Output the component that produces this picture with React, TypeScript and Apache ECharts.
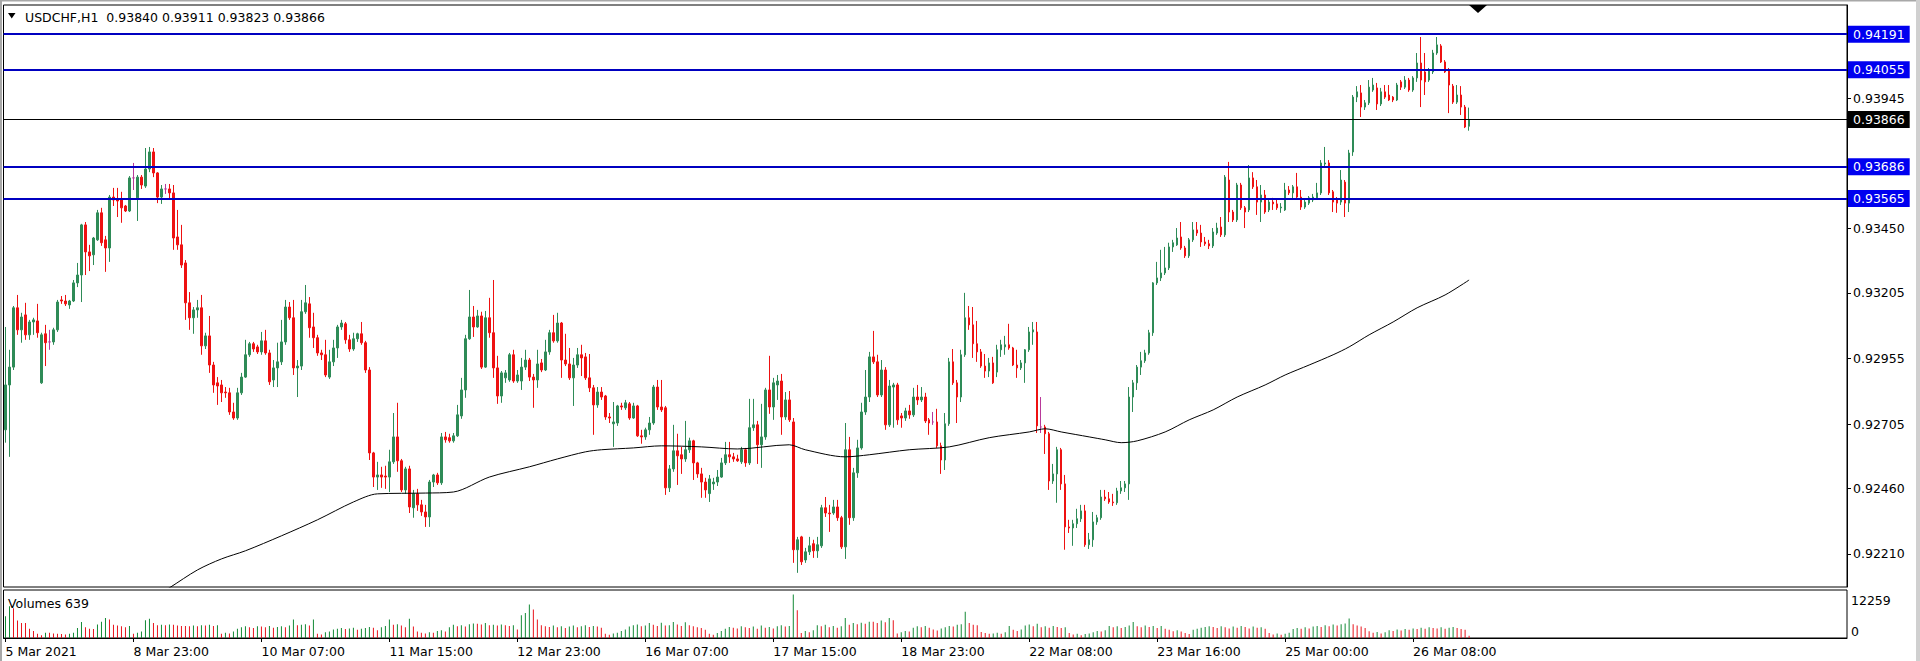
import React, { useEffect, useRef } from 'react';
import * as echarts from 'echarts';

const FONT = 'DejaVu Sans';
const symbolTitle = 'USDCHF,H1  0.93840 0.93911 0.93823 0.93866';
const volumeTitle = 'Volumes 639';
const timeTickLabels = ['5 Mar 2021', '8 Mar 23:00', '10 Mar 07:00', '11 Mar 15:00', '12 Mar 23:00', '16 Mar 07:00', '17 Mar 15:00', '18 Mar 23:00', '22 Mar 08:00', '23 Mar 16:00', '25 Mar 00:00', '26 Mar 08:00'];
const barsPerTimeLabel = 32;
const totalSlots = 461;
const priceTicks = [0.9221, 0.9246, 0.92705, 0.92955, 0.93205, 0.9345, 0.93945];
const levelLines = [0.94191, 0.94055, 0.93686, 0.93565];
const bidPrice = 0.93866;
const volumeMaxLabel = 12259;

// [open, close, low, high]
const ohlc: number[][] = [
[0.92683,0.92854,0.92634,0.93075],[0.92854,0.92922,0.92580,0.92988],[0.92922,0.93148,0.92911,0.93155],[0.93148,0.93064,0.93045,0.93197],[0.93064,0.93113,0.93015,0.93129],[0.93121,0.93045,0.93026,0.93167],
[0.93045,0.93094,0.93026,0.93102],[0.93094,0.93102,0.93045,0.93110],[0.93098,0.93053,0.93034,0.93163],[0.92862,0.93045,0.92858,0.93053],[0.93049,0.93015,0.92926,0.93083],[0.93018,0.93018,0.92988,0.93064],
[0.93018,0.93064,0.93007,0.93072],[0.93064,0.93170,0.93056,0.93178],[0.93178,0.93174,0.93163,0.93193],[0.93174,0.93163,0.93155,0.93197],[0.93159,0.93174,0.93144,0.93178],[0.93174,0.93243,0.93170,0.93254],
[0.93243,0.93273,0.93227,0.93319],[0.93273,0.93464,0.93170,0.93468],[0.93464,0.93361,0.93273,0.93475],[0.93361,0.93346,0.93288,0.93388],[0.93350,0.93414,0.93311,0.93418],[0.93407,0.93510,0.93403,0.93521],
[0.93510,0.93396,0.93384,0.93529],[0.93407,0.93376,0.93285,0.93422],[0.93376,0.93570,0.93323,0.93578],[0.93570,0.93559,0.93536,0.93605],[0.93559,0.93555,0.93494,0.93605],[0.93559,0.93529,0.93472,0.93590],
[0.93536,0.93517,0.93513,0.93540],[0.93517,0.93643,0.93513,0.93650],[0.93643,0.93643,0.93597,0.93700],[0.93567,0.93646,0.93479,0.93654],[0.93646,0.93616,0.93601,0.93654],[0.93612,0.93677,0.93605,0.93757],
[0.93677,0.93742,0.93665,0.93761],[0.93742,0.93662,0.93646,0.93757],[0.93662,0.93570,0.93547,0.93665],[0.93570,0.93601,0.93544,0.93616],[0.93601,0.93601,0.93582,0.93620],[0.93601,0.93586,0.93559,0.93620],
[0.93586,0.93414,0.93369,0.93616],[0.93418,0.93388,0.93369,0.93521],[0.93388,0.93311,0.93300,0.93464],[0.93319,0.93167,0.93102,0.93330],[0.93167,0.93110,0.93064,0.93208],[0.93110,0.93140,0.93049,0.93151],
[0.93140,0.93148,0.93110,0.93178],[0.93148,0.93003,0.92969,0.93197],[0.93003,0.93041,0.92991,0.93053],[0.93041,0.92930,0.92900,0.93117],[0.92930,0.92854,0.92824,0.92942],[0.92862,0.92850,0.92778,0.92884],
[0.92854,0.92824,0.92789,0.92873],[0.92827,0.92824,0.92805,0.92846],[0.92824,0.92751,0.92740,0.92843],[0.92751,0.92728,0.92721,0.92786],[0.92728,0.92824,0.92721,0.92843],[0.92824,0.92884,0.92816,0.92900],
[0.92884,0.92969,0.92881,0.93026],[0.92969,0.93011,0.92961,0.93018],[0.93011,0.92991,0.92980,0.93018],[0.92999,0.92980,0.92972,0.93007],[0.92980,0.93022,0.92969,0.93056],[0.93022,0.92976,0.92969,0.93064],
[0.92976,0.92866,0.92854,0.92988],[0.92873,0.92919,0.92846,0.92949],[0.92919,0.92942,0.92846,0.93015],[0.92942,0.93018,0.92930,0.93102],[0.93018,0.93151,0.93007,0.93178],[0.93151,0.93110,0.93102,0.93170],
[0.93110,0.92919,0.92892,0.93178],[0.92919,0.92926,0.92808,0.92949],[0.92926,0.93133,0.92911,0.93178],[0.93133,0.93167,0.93125,0.93235],[0.93163,0.93072,0.93034,0.93189],[0.93075,0.93034,0.92995,0.93129],
[0.93034,0.92976,0.92965,0.93045],[0.92976,0.92969,0.92949,0.92988],[0.92969,0.92892,0.92884,0.93026],[0.92884,0.92942,0.92877,0.92988],[0.92942,0.92995,0.92926,0.93026],[0.92995,0.93075,0.92957,0.93083],
[0.93075,0.93090,0.93064,0.93102],[0.93087,0.93026,0.93011,0.93094],[0.93026,0.92991,0.92980,0.93045],[0.92991,0.93030,0.92984,0.93053],[0.93030,0.93049,0.93018,0.93053],[0.93049,0.93015,0.93007,0.93094],
[0.93015,0.92911,0.92900,0.93022],[0.92911,0.92595,0.92568,0.92922],[0.92595,0.92503,0.92465,0.92599],[0.92503,0.92511,0.92454,0.92561],[0.92511,0.92503,0.92462,0.92542],[0.92507,0.92503,0.92458,0.92546],
[0.92503,0.92561,0.92446,0.92607],[0.92561,0.92656,0.92553,0.92747],[0.92656,0.92565,0.92523,0.92786],[0.92565,0.92454,0.92446,0.92572],[0.92454,0.92534,0.92439,0.92542],[0.92534,0.92389,0.92366,0.92546],
[0.92386,0.92439,0.92348,0.92454],[0.92439,0.92397,0.92374,0.92458],[0.92397,0.92370,0.92355,0.92416],[0.92370,0.92351,0.92313,0.92397],[0.92351,0.92484,0.92313,0.92492],[0.92484,0.92511,0.92465,0.92515],
[0.92511,0.92481,0.92473,0.92519],[0.92481,0.92656,0.92473,0.92671],[0.92656,0.92645,0.92634,0.92675],[0.92653,0.92641,0.92634,0.92668],[0.92641,0.92660,0.92634,0.92671],[0.92660,0.92740,0.92656,0.92778],
[0.92736,0.92835,0.92725,0.92881],[0.92835,0.93030,0.92805,0.93045],[0.93030,0.93113,0.93026,0.93216],[0.93113,0.93075,0.93037,0.93155],[0.93075,0.93117,0.93072,0.93140],[0.93117,0.92922,0.92915,0.93133],
[0.92922,0.93110,0.92919,0.93136],[0.93110,0.93053,0.93034,0.93186],[0.93053,0.92919,0.92881,0.93254],[0.92919,0.92812,0.92782,0.92965],[0.92812,0.92900,0.92786,0.92907],[0.92881,0.92900,0.92862,0.92911],
[0.92873,0.92969,0.92866,0.92976],[0.92969,0.92869,0.92862,0.92988],[0.92869,0.92892,0.92862,0.92911],[0.92869,0.92922,0.92835,0.92957],[0.92922,0.92949,0.92911,0.92988],[0.92949,0.92884,0.92869,0.92957],
[0.92884,0.92873,0.92767,0.92896],[0.92873,0.92934,0.92843,0.92988],[0.92938,0.92911,0.92903,0.92953],[0.92911,0.92980,0.92907,0.93026],[0.92980,0.93053,0.92969,0.93064],[0.93053,0.93022,0.93015,0.93121],
[0.93022,0.93090,0.93015,0.93129],[0.93090,0.92949,0.92881,0.93094],[0.92949,0.92934,0.92926,0.93049],[0.92934,0.92881,0.92873,0.92995],[0.92881,0.92930,0.92774,0.92957],[0.92930,0.92969,0.92919,0.92995],
[0.92969,0.92957,0.92888,0.93007],[0.92961,0.92881,0.92873,0.92976],[0.92881,0.92843,0.92827,0.92972],[0.92843,0.92778,0.92664,0.92854],[0.92778,0.92827,0.92767,0.92846],[0.92827,0.92808,0.92797,0.92846],
[0.92812,0.92732,0.92721,0.92816],[0.92732,0.92728,0.92709,0.92747],[0.92706,0.92713,0.92618,0.92789],[0.92709,0.92774,0.92698,0.92778],[0.92774,0.92770,0.92759,0.92786],[0.92767,0.92786,0.92759,0.92797],
[0.92782,0.92728,0.92721,0.92789],[0.92728,0.92774,0.92725,0.92786],[0.92774,0.92660,0.92656,0.92778],[0.92660,0.92656,0.92630,0.92683],[0.92656,0.92683,0.92645,0.92691],[0.92683,0.92709,0.92664,0.92732],
[0.92709,0.92846,0.92702,0.92854],[0.92846,0.92770,0.92759,0.92873],[0.92770,0.92759,0.92751,0.92873],[0.92767,0.92462,0.92435,0.92774],[0.92462,0.92534,0.92446,0.92549],[0.92534,0.92603,0.92523,0.92702],
[0.92603,0.92584,0.92473,0.92668],[0.92588,0.92572,0.92515,0.92618],[0.92572,0.92607,0.92561,0.92717],[0.92607,0.92641,0.92595,0.92653],[0.92641,0.92557,0.92492,0.92645],[0.92557,0.92515,0.92500,0.92561],
[0.92515,0.92484,0.92424,0.92538],[0.92484,0.92454,0.92424,0.92500],[0.92440,0.92496,0.92408,0.92511],[0.92477,0.92484,0.92454,0.92500],[0.92484,0.92503,0.92469,0.92530],[0.92503,0.92557,0.92500,0.92576],
[0.92557,0.92588,0.92549,0.92637],[0.92588,0.92580,0.92557,0.92637],[0.92580,0.92572,0.92561,0.92595],[0.92572,0.92565,0.92561,0.92588],[0.92561,0.92607,0.92553,0.92618],[0.92607,0.92557,0.92542,0.92614],
[0.92557,0.92691,0.92549,0.92801],[0.92691,0.92702,0.92679,0.92801],[0.92702,0.92626,0.92553,0.92717],[0.92626,0.92656,0.92538,0.92782],[0.92656,0.92835,0.92645,0.92843],[0.92835,0.92770,0.92744,0.92965],
[0.92770,0.92862,0.92721,0.92881],[0.92854,0.92869,0.92797,0.92892],[0.92869,0.92732,0.92664,0.92896],[0.92732,0.92797,0.92721,0.92827],[0.92797,0.92721,0.92713,0.92831],[0.92713,0.92226,0.92176,0.92728],
[0.92226,0.92264,0.92138,0.92275],[0.92275,0.92180,0.92168,0.92279],[0.92187,0.92218,0.92176,0.92233],[0.92218,0.92241,0.92206,0.92275],[0.92249,0.92222,0.92195,0.92264],[0.92222,0.92245,0.92195,0.92275],
[0.92241,0.92386,0.92233,0.92397],[0.92386,0.92366,0.92351,0.92427],[0.92366,0.92363,0.92294,0.92397],[0.92366,0.92389,0.92359,0.92416],[0.92389,0.92348,0.92336,0.92416],[0.92348,0.92237,0.92229,0.92355],
[0.92237,0.92607,0.92191,0.92709],[0.92607,0.92348,0.92321,0.92656],[0.92348,0.92519,0.92336,0.92538],[0.92519,0.92614,0.92500,0.92645],[0.92614,0.92751,0.92607,0.92786],[0.92751,0.92808,0.92740,0.92911],
[0.92808,0.92961,0.92789,0.92980],[0.92961,0.92942,0.92934,0.93060],[0.92942,0.92816,0.92808,0.92969],[0.92816,0.92911,0.92808,0.92949],[0.92911,0.92702,0.92683,0.92922],[0.92702,0.92850,0.92694,0.92873],
[0.92846,0.92854,0.92691,0.92862],[0.92854,0.92721,0.92702,0.92862],[0.92736,0.92728,0.92691,0.92747],[0.92728,0.92755,0.92717,0.92767],[0.92755,0.92740,0.92725,0.92778],[0.92740,0.92808,0.92732,0.92843],
[0.92808,0.92797,0.92778,0.92854],[0.92797,0.92808,0.92789,0.92846],[0.92808,0.92717,0.92709,0.92824],[0.92721,0.92709,0.92664,0.92728],[0.92713,0.92713,0.92702,0.92751],[0.92713,0.92622,0.92614,0.92763],
[0.92622,0.92568,0.92515,0.92634],[0.92568,0.92706,0.92530,0.92747],[0.92706,0.92942,0.92698,0.92957],[0.92942,0.92862,0.92854,0.92991],[0.92862,0.92808,0.92709,0.92873],[0.92808,0.92969,0.92789,0.92988],
[0.92969,0.93110,0.92961,0.93205],[0.93110,0.93083,0.93064,0.93155],[0.93083,0.93011,0.92957,0.93151],[0.93011,0.92980,0.92942,0.93098],[0.92980,0.92926,0.92919,0.92991],[0.92926,0.92907,0.92881,0.92972],
[0.92907,0.92938,0.92884,0.92957],[0.92938,0.92862,0.92858,0.92961],[0.92903,0.92988,0.92884,0.93007],[0.92988,0.93007,0.92961,0.93026],[0.92999,0.93007,0.92969,0.93041],[0.93007,0.92995,0.92988,0.93087],
[0.92995,0.92930,0.92926,0.92999],[0.92930,0.92919,0.92881,0.92988],[0.92919,0.92938,0.92911,0.92949],[0.92938,0.92988,0.92862,0.92991],[0.92988,0.93056,0.92980,0.93075],[0.93056,0.93064,0.93007,0.93094],
[0.93056,0.92698,0.92671,0.93094],[0.92694,0.92694,0.92671,0.92808],[0.92694,0.92668,0.92591,0.92702],[0.92668,0.92488,0.92454,0.92675],[0.92488,0.92515,0.92477,0.92553],[0.92515,0.92607,0.92405,0.92618],
[0.92607,0.92477,0.92454,0.92614],[0.92477,0.92313,0.92226,0.92511],[0.92313,0.92309,0.92290,0.92340],[0.92309,0.92325,0.92241,0.92340],[0.92325,0.92344,0.92309,0.92382],[0.92344,0.92374,0.92332,0.92397],
[0.92374,0.92245,0.92237,0.92397],[0.92245,0.92264,0.92229,0.92290],[0.92264,0.92332,0.92237,0.92370],[0.92332,0.92348,0.92321,0.92359],[0.92348,0.92427,0.92340,0.92454],[0.92427,0.92420,0.92412,0.92454],
[0.92420,0.92408,0.92401,0.92446],[0.92408,0.92405,0.92393,0.92439],[0.92405,0.92450,0.92397,0.92462],[0.92450,0.92462,0.92439,0.92488],[0.92462,0.92477,0.92446,0.92488],[0.92477,0.92808,0.92416,0.92846],
[0.92808,0.92862,0.92751,0.92873],[0.92862,0.92922,0.92835,0.92930],[0.92922,0.92946,0.92892,0.92980],[0.92946,0.92976,0.92938,0.92988],[0.92976,0.93053,0.92969,0.93064],[0.93053,0.93243,0.93041,0.93246],
[0.93243,0.93262,0.93235,0.93323],[0.93262,0.93281,0.93250,0.93369],[0.93281,0.93300,0.93273,0.93380],[0.93300,0.93380,0.93292,0.93396],[0.93380,0.93396,0.93361,0.93407],[0.93388,0.93414,0.93384,0.93452],
[0.93418,0.93376,0.93369,0.93475],[0.93376,0.93346,0.93338,0.93384],[0.93346,0.93407,0.93338,0.93414],[0.93407,0.93445,0.93399,0.93475],[0.93445,0.93433,0.93422,0.93475],[0.93433,0.93399,0.93380,0.93464],
[0.93399,0.93392,0.93384,0.93418],[0.93392,0.93384,0.93372,0.93407],[0.93384,0.93437,0.93376,0.93452],[0.93433,0.93452,0.93426,0.93472],[0.93456,0.93426,0.93418,0.93494],[0.93426,0.93646,0.93418,0.93654],
[0.93635,0.93513,0.93475,0.93704],[0.93513,0.93483,0.93475,0.93521],[0.93483,0.93616,0.93475,0.93624],[0.93616,0.93529,0.93521,0.93624],[0.93529,0.93513,0.93452,0.93536],[0.93521,0.93643,0.93513,0.93692],
[0.93643,0.93609,0.93601,0.93665],[0.93609,0.93551,0.93502,0.93635],[0.93551,0.93578,0.93475,0.93616],[0.93578,0.93513,0.93506,0.93597],[0.93521,0.93551,0.93513,0.93559],[0.93551,0.93544,0.93521,0.93567],
[0.93544,0.93529,0.93521,0.93559],[0.93529,0.93532,0.93510,0.93547],[0.93521,0.93597,0.93517,0.93624],[0.93597,0.93586,0.93578,0.93612],[0.93586,0.93609,0.93559,0.93616],[0.93609,0.93570,0.93563,0.93662],
[0.93570,0.93532,0.93521,0.93597],[0.93532,0.93551,0.93525,0.93559],[0.93547,0.93567,0.93540,0.93574],[0.93559,0.93570,0.93551,0.93582],[0.93567,0.93586,0.93559,0.93624],[0.93586,0.93700,0.93578,0.93711],
[0.93696,0.93700,0.93685,0.93761],[0.93700,0.93586,0.93578,0.93711],[0.93590,0.93551,0.93513,0.93597],[0.93559,0.93547,0.93510,0.93570],[0.93551,0.93635,0.93540,0.93673],[0.93627,0.93547,0.93494,0.93635],
[0.93547,0.93738,0.93513,0.93750],[0.93742,0.93951,0.93727,0.93959],[0.93951,0.93971,0.93932,0.93993],[0.93967,0.93913,0.93875,0.93997],[0.93913,0.93929,0.93902,0.93940],[0.93929,0.93989,0.93921,0.94016],
[0.93978,0.93997,0.93971,0.94024],[0.93986,0.93925,0.93902,0.94005],[0.93925,0.93971,0.93917,0.93986],[0.93971,0.93951,0.93944,0.93997],[0.93959,0.93940,0.93936,0.93997],[0.93951,0.93940,0.93932,0.93955],
[0.93940,0.93997,0.93936,0.94005],[0.94009,0.93989,0.93978,0.94016],[0.93989,0.94016,0.93982,0.94031],[0.94016,0.93978,0.93971,0.94024],[0.93978,0.94024,0.93971,0.94031],[0.94024,0.94081,0.94009,0.94119],
[0.94081,0.94016,0.93913,0.94180],[0.94047,0.94009,0.93959,0.94119],[0.94016,0.94054,0.94009,0.94062],[0.94047,0.94119,0.94039,0.94131],[0.94119,0.94150,0.94112,0.94180],[0.94146,0.94085,0.94081,0.94153],
[0.94085,0.94047,0.94043,0.94092],[0.94054,0.93997,0.93890,0.94062],[0.93993,0.93932,0.93925,0.94001],[0.93932,0.93959,0.93925,0.93997],[0.93959,0.93913,0.93883,0.93993],[0.93913,0.93837,0.93833,0.93921],
[0.93840,0.93866,0.93823,0.93911]
];

// tick volume per bar (same order as ohlc)
const volumes: number[] = [
/* 0-8 */ 6100, 8900, 8400, 4900, 4200, 4200, 2600, 2000, 1200,
/* 9-17 */ 800, 1500, 1500, 1300, 1200, 1100, 1000, 1200, 1500,
/* 18-26 */ 2800, 4500, 3000, 2600, 2500, 3800, 4600, 5600, 5200,
/* 27-31 */ 3700, 3500, 3300, 3000, 3400,
/* 32-34 */ 1200, 1500, 1800,
/* 35-38 */ 5000, 5400, 4200, 3600,
/* 39-43 */ 3700, 3600, 3800, 3700, 3500,
/* 44-50 */ 3400, 3400, 3300, 3500, 3300, 3600, 3500,
/* 51-53 */ 3700, 3400, 3600,
/* 54-58 */ 1200, 1500, 1300, 1800, 2600,
/* 59-71 */ 3000, 3300, 3000, 2800, 3300, 3200, 3000, 3400, 2900, 3100, 3300, 3000, 3500,
/* 72 */ 5200,
/* 73-77 */ 3600, 3700, 3900, 3500, 5200,
/* 78-81 */ 1200, 1000, 1600, 1800,
/* 82-94 */ 2400, 2600, 2800, 2500, 2700, 2900, 2300, 2600, 2800, 3100, 2900, 2200, 3000,
/* 95-96 */ 3400, 5200,
/* 97-100 */ 3700, 3900, 3500, 3000,
/* 101 */ 5400,
/* 102-110 */ 3200, 1800, 1500, 1300, 1600, 1500, 2000, 2200, 1800,
/* 111-121 */ 3000, 3700, 3300, 3600, 3200, 3900, 4100, 4000, 3800, 4200, 3600,
/* 122-127 */ 3700, 3500, 3800, 3600, 3400, 3600,
/* 128-134 */ 2400, 6400, 7000, 9400, 8000, 5200, 3600,
/* 135-149 */ 3300, 3100, 3500, 3000, 3300, 2800, 3200, 3500, 3000, 3300, 3600, 3100, 3400, 3200, 2900,
/* 150-155 */ 1200, 900, 1300, 1500, 2000, 2400,
/* 156-172 */ 3200, 3600, 3800, 3300, 3500, 4200, 3700, 3400, 4300, 3500, 3600, 4500, 3800, 3400, 4400, 3600, 3300,
/* 173-175 */ 3000, 2800, 2300,
/* 176-179 */ 1200, 900, 1400, 2000,
/* 180-192 */ 2600, 3100, 2900, 2700, 3300, 3000, 2800, 3200, 2600, 3500, 2900, 3100, 2700,
/* 193-196 */ 3300, 3600, 3200, 3400,
/* 197-199 */ 12259, 7800, 1400,
/* 200-202 */ 2000, 1600, 2200,
/* 203-205 */ 3600, 3300, 3700,
/* 206-209 */ 3000, 3400, 2900, 3300,
/* 210 */ 5600,
/* 211-213 */ 3700, 4200, 3900,
/* 214-216 */ 4300, 4000, 4600,
/* 217-222 */ 4600, 4200, 4900, 4400, 5600, 5000,
/* 223 */ 1300,
/* 224-226 */ 1600, 2000, 1800,
/* 227-230 */ 2900, 3300, 3000, 3400,
/* 231-234 */ 2900, 2400, 2100, 2700,
/* 235-239 */ 3000, 3400, 3200, 3700, 3900,
/* 240 */ 7400,
/* 241-243 */ 4200, 3700, 3600,
/* 244-250 */ 1700, 1400, 1200, 1300, 1500, 1200, 1600,
/* 251 */ 3400,
/* 252-254 */ 2300, 2000, 2400,
/* 255-257 */ 3500, 3800, 3300,
/* 258 */ 4000,
/* 259-265 */ 3000, 3300, 2900, 3400, 3100, 2800, 3000,
/* 266-271 */ 1400, 1000, 1200, 800, 1100, 1300,
/* 272-275 */ 1600, 2000, 1800, 2200,
/* 276 */ 3400,
/* 277-281 */ 3000, 3300, 2800, 3100, 3500,
/* 282 */ 4500,
/* 283-288 */ 3300, 3000, 3500, 3100, 3400, 2800,
/* 289 */ 3400,
/* 290-294 */ 2600, 2300, 1900, 2200, 1800,
/* 295-296 */ 1400, 1100,
/* 297-301 */ 2300, 2600, 2900, 3100, 3300,
/* 302-309 */ 3100, 2800, 3300, 3000, 2700, 3200, 2900, 3400,
/* 310-315 */ 3100, 2700, 3200, 2900, 3000, 2600,
/* 316-321 */ 1400, 1000, 1300, 900, 1200, 1500,
/* 322-326 */ 2500, 2800, 2600, 3000, 2700,
/* 327-335 */ 3200, 3400, 3100, 3600, 3300, 3800, 3500, 3900, 4100,
/* 336 */ 5500,
/* 337-340 */ 3900, 3500, 3200, 2800,
/* 341-345 */ 1900, 1500, 1700, 1300, 1600,
/* 346-351 */ 2200, 2000, 2400, 2100, 2500, 2300,
/* 352-357 */ 2700, 2500, 2900, 2600, 3000, 2800,
/* 358-363 */ 2700, 3000, 2600, 2900, 3100, 2800,
/* 364-366 */ 2500, 2300, 639
];

// moving average, [bar index, value]
const maPoints: number[][] = [
[36,0.92035],[41,0.92081],[48,0.92149],[54,0.92191],[60,0.92222],[69,0.92279],[78,0.92340],[87,0.92408],[93,0.92439],
[105,0.92442],[112,0.92446],[121,0.92503],[131,0.92542],[138,0.92572],[145,0.92599],[149,0.92607],[157,0.92614],[164,0.92622],
[174,0.92618],[183,0.92610],[196,0.92626],[200,0.92607],[210,0.92580],[216,0.92588],[226,0.92607],[236,0.92618],[246,0.92653],
[256,0.92675],[260,0.92687],[264,0.92675],[271,0.92656],[275,0.92645],[279,0.92634],[283,0.92641],[290,0.92675],[296,0.92721],
[302,0.92759],[308,0.92808],[315,0.92854],[320,0.92892],[326,0.92930],[332,0.92969],[336,0.92999],[341,0.93045],[347,0.93094],
[353,0.93148],[360,0.93197],[366,0.93254]
];

const slots = Array.from({ length: totalSlots }, (_, i) => String(i));
const showTime = (index: number) => index % barsPerTimeLabel === 0 && index / barsPerTimeLabel < timeTickLabels.length;

export default function App() {
  const ref = useRef<HTMLDivElement>(null);
  useEffect(() => {
    if (!ref.current) return;
    const chart = echarts.init(ref.current, null, { renderer: 'svg' });
    const txt = { fontFamily: FONT, fontSize: 12.5, color: '#000' };
    const volUp = '#138a36';
    const volDown = '#e8141c';
    const levelLabel = (bg: string) => ({
      show: true, position: 'end', distance: 1,
      formatter: (p: any) => Number(p.value).toFixed(5),
      ...txt, color: '#ffffff', backgroundColor: bg, padding: [2, 5, 2, 5], lineHeight: 13,
    });
    const option: any = {
      animation: false,
      backgroundColor: '#ffffff',
      textStyle: { fontFamily: FONT },
      title: [
        { text: symbolTitle, left: 25, top: 10, padding: 0, textStyle: { ...txt, fontWeight: 'normal', lineHeight: 14 } },
        { text: volumeTitle, left: 8, top: 596, padding: 0, textStyle: { ...txt, fontWeight: 'normal', lineHeight: 14 } },
      ],
      grid: [
        { left: 3.5, top: 5, width: 1843.5, height: 582, show: true, borderColor: '#000', borderWidth: 1, containLabel: false },
        { left: 3.5, top: 590, width: 1843.5, height: 48, show: true, borderColor: '#000', borderWidth: 1, containLabel: false },
      ],
      xAxis: [
        { type: 'category', gridIndex: 0, data: slots, boundaryGap: true, axisLine: { show: false }, axisTick: { show: false }, axisLabel: { show: false }, splitLine: { show: false } },
        {
          type: 'category', gridIndex: 1, data: slots, boundaryGap: true,
          axisLine: { show: true, lineStyle: { color: '#000', width: 1 } },
          axisTick: { show: true, alignWithLabel: true, interval: showTime, length: 4, lineStyle: { color: '#000' } },
          axisLabel: { show: true, interval: showTime, formatter: (_v: string, i: number) => timeTickLabels[i / barsPerTimeLabel] ?? '', align: 'left', margin: 7, ...txt },
          splitLine: { show: false },
        },
      ],
      yAxis: [
        {
          type: 'value', gridIndex: 0, position: 'right', min: 0.92084, max: 0.94302,
          splitLine: { show: false },
          axisLine: { show: true, lineStyle: { color: '#000' } },
          axisTick: { show: true, length: 4, customValues: priceTicks, lineStyle: { color: '#000' } },
          axisLabel: { show: true, customValues: priceTicks, formatter: (v: number) => v.toFixed(5), margin: 6, ...txt },
        },
        {
          type: 'value', gridIndex: 1, position: 'right', min: 0, max: 13500,
          splitLine: { show: false },
          axisLine: { show: false },
          axisTick: { show: false },
          axisLabel: {
            show: true, customValues: [0, volumeMaxLabel], margin: 4,
            formatter: (v: number) => (v === 0 ? '{b|0}' : '{t|' + String(v) + '}'),
            rich: {
              t: { ...txt, padding: [12, 0, 0, 0], lineHeight: 15 },
              b: { ...txt, padding: [0, 0, 14, 0], lineHeight: 15 },
            },
            ...txt,
          },
        },
      ],
      series: [
        {
          type: 'candlestick', xAxisIndex: 0, yAxisIndex: 0, data: ohlc, barWidth: 2, z: 2,
          itemStyle: { color: '#2e8b57', color0: '#ee1111', borderColor: '#2e8b57', borderColor0: '#ee1111', borderColorDoji: '#b8399a', borderWidth: 1 },
        },
        {
          type: 'line', xAxisIndex: 0, yAxisIndex: 0, data: maPoints, showSymbol: false, smooth: 0.3, clip: true, z: 3,
          lineStyle: { color: '#000', width: 1 },
          markLine: {
            silent: true, symbol: ['none', 'none'], animation: false, precision: 5,
            data: [
              ...levelLines.map((v) => ({
                yAxis: v,
                lineStyle: { color: '#0000c0', width: 2, type: 'solid' },
                label: levelLabel('#0000f0'),
              })),
              {
                yAxis: bidPrice,
                lineStyle: { color: '#000000', width: 1, type: 'solid' },
                label: levelLabel('#000000'),
              },
            ],
          },
        },
        {
          type: 'bar', xAxisIndex: 1, yAxisIndex: 1, barWidth: 1,
          data: volumes.map((v, i) => ({ value: v, itemStyle: { color: i === 0 || v > volumes[i - 1] ? volUp : volDown } })),
        },
      ],
      graphic: [
        { type: 'polygon', shape: { points: [[8, 13], [15.5, 13], [11.75, 18.5]] }, style: { fill: '#000' } },
        { type: 'polygon', shape: { points: [[1469, 5], [1487, 5], [1478, 13]] }, style: { fill: '#000' } },
        { type: 'rect', shape: { x: 0, y: 0, width: 1920, height: 1.5 }, style: { fill: '#a8a8a8' } },
        { type: 'rect', shape: { x: 0, y: 0, width: 2, height: 661 }, style: { fill: '#a8a8a8' } },
        { type: 'rect', shape: { x: 1916, y: 0, width: 4, height: 661 }, style: { fill: '#d0d0d0' } },
      ],
    };
    chart.setOption(option);
    return () => chart.dispose();
  }, []);
  return <div ref={ref} style={{ position: 'absolute', left: 0, top: 0, width: 1920, height: 661 }} />;
}
